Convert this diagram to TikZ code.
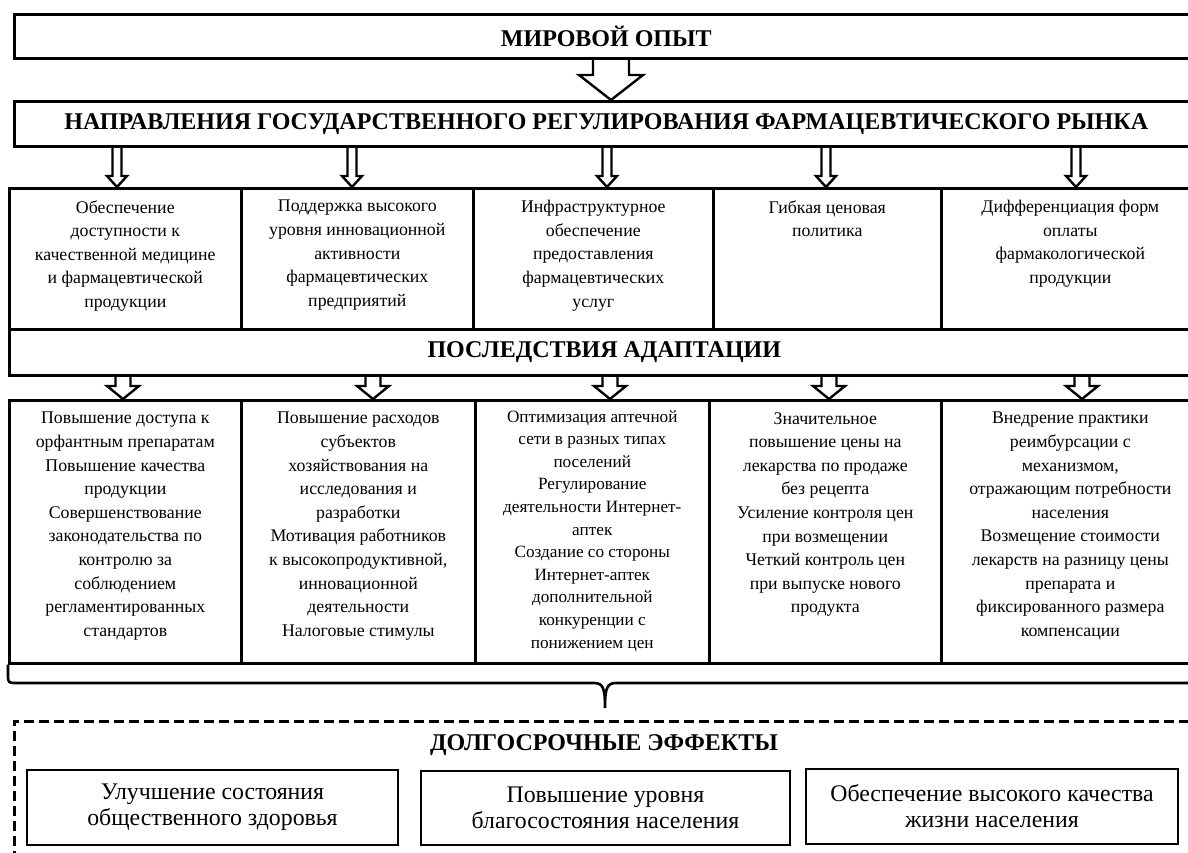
\documentclass[tikz,border=0pt]{standalone}
\usepackage{fontspec}
\setmainfont{Liberation Serif}
\usepackage{tikz}
\usetikzlibrary{calc}

\tikzset{
  headbox/.style={draw, line width=2.6pt, anchor=north west, inner sep=0pt, font=\fontsize{24}{28}\selectfont\bfseries},
  cell/.style={draw, line width=2.6pt, anchor=north west, inner sep=0pt, font=\fontsize{17.8}{23.6}\selectfont},
  effbox/.style={draw, line width=2.6pt, inner sep=0pt, align=center, font=\fontsize{23.8}{26}\selectfont},
  dashbox/.style={draw, line width=2.6pt, dash pattern=on 10pt off 5pt, anchor=north west, inner sep=0pt},
  arrowline/.style={line width=2.4pt, line join=miter},
  braceline/.style={line width=2.6pt},
}
% box with top aligned lines: width, height, text
\newcommand{\cellbox}[3]{\parbox[c][#2pt][t]{#1pt}{\centering\vspace*{12pt}#3}}
% hollow arrow: x, upper node, lower node, shaft half, head half, head length
\newcommand{\hollowarrow}[6]{%
  \draw[arrowline] let \p0 = (#1,0), \p1 = (#2.south), \p2 = (#3.north) in
    (\x0-#4,\y1) -- (\x0-#4,\y2+#6) -- (\x0-#5,\y2+#6) -- (\x0,\y2)
    -- (\x0+#5,\y2+#6) -- (\x0+#4,\y2+#6) -- (\x0+#4,\y1);}

\begin{document}
\begin{tikzpicture}[x=1pt, y=-1pt]
  \useasboundingbox (0,0) rectangle (1188,852);

  % head lines
  \node[headbox, minimum width=1184pt, minimum height=44pt] (world) at (13,13) {МИРОВОЙ ОПЫТ};
  \node[headbox, minimum width=1184pt, minimum height=45pt] (dirs) at (13,100)
    {НАПРАВЛЕНИЯ ГОСУДАРСТВЕННОГО РЕГУЛИРОВАНИЯ ФАРМАЦЕВТИЧЕСКОГО РЫНКА};
  \hollowarrow{611}{world}{dirs}{18pt}{32pt}{25pt}

  % directions
  \node[cell] (a1) at (8,187) {\cellbox{232}{141}{Обеспечение\\ доступности к\\ качественной медицине\\ и фармацевтической\\ продукции}};
  \node[cell] (a2) at (240,187) {\cellbox{232}{141}{Поддержка высокого\\ уровня инновационной\\ активности\\ фармацевтических\\ предприятий}};
  \node[cell] (a3) at (472,187) {\cellbox{240}{141}{Инфраструктурное\\ обеспечение\\ предоставления\\ фармацевтических\\ услуг}};
  \node[cell] (a4) at (712,187) {\cellbox{228}{141}{Гибкая ценовая\\ политика}};
  \node[cell] (a5) at (940,187) {\cellbox{258}{141}{Дифференциация форм\\ оплаты\\ фармакологической\\ продукции}};
  \hollowarrow{117}{dirs}{a1}{4.5pt}{10pt}{11pt}
  \hollowarrow{352}{dirs}{a2}{4.5pt}{10pt}{11pt}
  \hollowarrow{607}{dirs}{a3}{4.5pt}{10pt}{11pt}
  \hollowarrow{826}{dirs}{a4}{4.5pt}{10pt}{11pt}
  \hollowarrow{1076}{dirs}{a5}{4.5pt}{10pt}{11pt}

  % consequences
  \node[headbox, minimum width=1190pt, minimum height=46pt] (cons) at (8,328) {ПОСЛЕДСТВИЯ АДАПТАЦИИ};
  \node[cell] (b1) at (8,399) {\cellbox{232}{263}{Повышение доступа к\\ орфантным препаратам\\ Повышение качества\\ продукции\\ Совершенствование\\ законодательства по\\ контролю за\\ соблюдением\\ регламентированных\\ стандартов}};
  \node[cell] (b2) at (240,399) {\cellbox{234}{263}{Повышение расходов\\ субъектов\\ хозяйствования на\\ исследования и\\ разработки\\ Мотивация работников\\ к высокопродуктивной,\\ инновационной\\ деятельности\\ Налоговые стимулы}};
  \node[cell] (b3) at (474,399) {\cellbox{234}{263}{\vspace*{-2pt}\fontsize{17.2}{22.6}\selectfont Оптимизация аптечной\\ сети в разных типах\\ поселений\\ Регулирование\\ деятельности Интернет-\\ аптек\\ Создание со стороны\\ Интернет-аптек\\ дополнительной\\ конкуренции с\\ понижением цен}};
  \node[cell] (b4) at (708,399) {\cellbox{232}{263}{Значительное\\ повышение цены на\\ лекарства по продаже\\ без рецепта\\ Усиление контроля цен\\ при возмещении\\ Четкий контроль цен\\ при выпуске нового\\ продукта}};
  \node[cell] (b5) at (940,399) {\cellbox{258}{263}{Внедрение практики\\ реимбурсации с\\ механизмом,\\ отражающим потребности\\ населения\\ Возмещение стоимости\\ лекарств на разницу цены\\ препарата и\\ фиксированного размера\\ компенсации}};
  \hollowarrow{123}{cons}{b1}{7.5pt}{16pt}{13pt}
  \hollowarrow{373}{cons}{b2}{7.5pt}{16pt}{13pt}
  \hollowarrow{610}{cons}{b3}{7.5pt}{16pt}{13pt}
  \hollowarrow{829}{cons}{b4}{7.5pt}{16pt}{13pt}
  \hollowarrow{1082}{cons}{b5}{7.5pt}{16pt}{13pt}

  % brace
  \coordinate (tip) at (605,708);
  \draw[braceline] (b1.south west) -- (8,674) .. controls (8,683) .. (17,683) -- (594,683)
    .. controls (603,683) and (605,688) .. (tip)
    .. controls (605,688) and (607,683) .. (616,683) -- (1200,683);

  % long-term effects
  \node[dashbox, minimum width=1190pt, minimum height=160pt] (longterm) at (13,720) {};
  \node[font=\fontsize{24}{28}\selectfont\bfseries] (lttitle) at (604,745) {ДОЛГОСРОЧНЫЕ ЭФФЕКТЫ};
  \node[effbox, minimum width=371pt, minimum height=75pt] (e1) at (212.5,807.5) {Улучшение состояния\\ общественного здоровья};
  \node[effbox, minimum width=369pt, minimum height=74pt] (e2) at (605.5,808) {Повышение уровня\\ благосостояния населения};
  \node[effbox, minimum width=372pt, minimum height=75pt] (e3) at (992,806.5) {Обеспечение высокого качества\\ жизни населения};
\end{tikzpicture}
\end{document}
